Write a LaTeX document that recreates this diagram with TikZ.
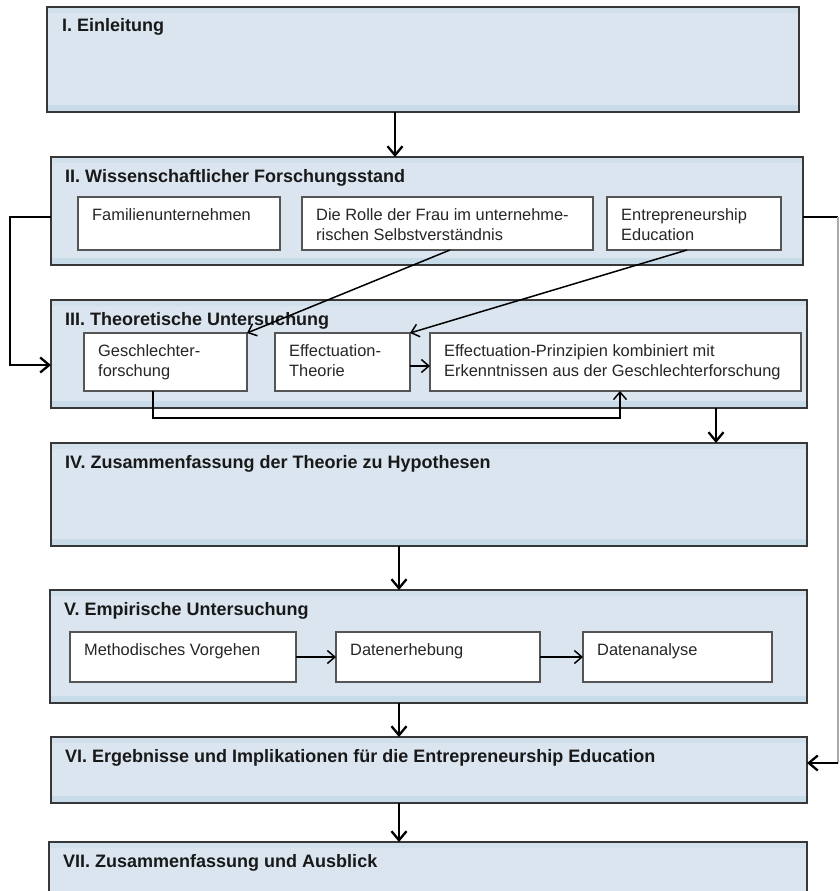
\documentclass[tikz,border=0pt]{standalone}
\usepackage{fontspec}
\setmainfont{Liberation Sans}
\usetikzlibrary{arrows.meta}
\definecolor{boxfill}{RGB}{218,229,240}
\definecolor{bandtop}{RGB}{210,224,236}
\definecolor{bandbot}{RGB}{200,219,232}
\definecolor{boxline}{RGB}{55,55,55}
\definecolor{subline}{RGB}{85,85,85}
\definecolor{routegray}{RGB}{170,170,170}
\tikzset{
  mainbox/.style={draw=boxline, line width=1.3pt, fill=boxfill, inner sep=0pt, outer sep=0pt, anchor=north west,
    path picture={
      \fill[bandtop] (path picture bounding box.north west) rectangle ([yshift=-6pt]path picture bounding box.north east);
      \fill[bandbot] ([yshift=7pt]path picture bounding box.south west) rectangle (path picture bounding box.south east);
    }},
  subbox/.style={draw=subline, line width=1.1pt, fill=white, inner sep=0pt, outer sep=0pt, anchor=north west},
  titletext/.style={anchor=base west, inner sep=0pt, font=\fontsize{18}{21}\selectfont\bfseries, text=black!90},
  subtext/.style={anchor=north west, inner sep=0pt, align=left, font=\fontsize{16.4}{20}\selectfont, text=black!85},
  arr/.style={line width=2.5pt, -{Straight Barb[length=9pt,width=15pt,line width=2.3pt]}},
  thinarr/.style={line width=1.5pt, -{Straight Barb[length=7.5pt,width=13pt,line width=1.5pt]}},
  heavyline/.style={line width=2.5pt},
  grayline/.style={line width=1.2pt, draw=routegray}
}
\begin{document}
\begin{tikzpicture}[x=1pt,y=-1pt]
\useasboundingbox (0,0) rectangle (839,891);

% main boxes
\node[mainbox, minimum width=752pt, minimum height=105pt] (I) at (47,7) {};
\node[mainbox, minimum width=752pt, minimum height=108pt] (II) at (51,157) {};
\node[mainbox, minimum width=756pt, minimum height=108pt] (III) at (51,300) {};
\node[mainbox, minimum width=756pt, minimum height=103pt] (IV) at (51,443) {};
\node[mainbox, minimum width=757pt, minimum height=113pt] (V) at (50,590) {};
\node[mainbox, minimum width=756pt, minimum height=66pt] (VI) at (51,737) {};
\node[mainbox, minimum width=758pt, minimum height=70pt] (VII) at (49,842) {};

% titles
\node[titletext] (tI) at ([shift={(15,25)}]I.north west) {I. Einleitung};
\node[titletext] (tII) at ([shift={(14,25)}]II.north west) {II. Wissenschaftlicher Forschungsstand};
\node[titletext] (tIII) at ([shift={(14,25)}]III.north west) {III. Theoretische Untersuchung};
\node[titletext] (tIV) at ([shift={(14,25)}]IV.north west) {IV. Zusammenfassung der Theorie zu Hypothesen};
\node[titletext] (tV) at ([shift={(14,25)}]V.north west) {V. Empirische Untersuchung};
\node[titletext] (tVI) at ([shift={(14,25)}]VI.north west) {VI. Ergebnisse und Implikationen für die Entrepreneurship Education};
\node[titletext] (tVII) at ([shift={(14,25)}]VII.north west) {VII. Zusammenfassung und Ausblick};

% sub boxes II
\node[subbox, minimum width=202pt, minimum height=53pt] (fam) at (78,197) {};
\node[subbox, minimum width=291pt, minimum height=53pt] (rolle) at (302,197) {};
\node[subbox, minimum width=174pt, minimum height=53pt] (edu) at (607,197) {};
\node[subtext] (famt) at ([shift={(14,11)}]fam.north west) {Familienunternehmen};
\node[subtext] (rollet) at ([shift={(14,11)}]rolle.north west) {Die Rolle der Frau im unternehme-\\rischen Selbstverständnis};
\node[subtext] (edut) at ([shift={(14,11)}]edu.north west) {Entrepreneurship\\Education};

% sub boxes III
\node[subbox, minimum width=163pt, minimum height=58pt] (ges) at (84,333) {};
\node[subbox, minimum width=135pt, minimum height=58pt] (eff) at (275,333) {};
\node[subbox, minimum width=371pt, minimum height=58pt] (prin) at (430,333) {};
\node[subtext] (gest) at ([shift={(14,11)}]ges.north west) {Geschlechter-\\forschung};
\node[subtext] (efft) at ([shift={(14,11)}]eff.north west) {Effectuation-\\Theorie};
\node[subtext] (print) at ([shift={(14,11)}]prin.north west) {Effectuation-Prinzipien kombiniert mit\\Erkenntnissen aus der Geschlechterforschung};

% sub boxes V
\node[subbox, minimum width=226pt, minimum height=50pt] (meth) at (70,632) {};
\node[subbox, minimum width=204pt, minimum height=50pt] (erh) at (336,632) {};
\node[subbox, minimum width=189pt, minimum height=50pt] (ana) at (583,632) {};
\node[subtext] (metht) at ([shift={(14,11)}]meth.north west) {Methodisches Vorgehen};
\node[subtext] (erht) at ([shift={(14,11)}]erh.north west) {Datenerhebung};
\node[subtext] (anat) at ([shift={(14,11)}]ana.north west) {Datenanalyse};

% helper coordinates
\coordinate (x395) at (395,0);
\coordinate (x399) at (399,0);
\coordinate (x716) at (716,0);
\coordinate (l1) at (10,217);
\coordinate (l2) at (10,365);
\coordinate (r1) at (838,217);
\coordinate (r2) at (838,763);
\coordinate (d1) at (450,0);
\coordinate (d2) at (687,0);
\coordinate (g1) at (153,418);
\coordinate (g2) at (620,418);
\coordinate (ey) at (0,366);

% vertical flow arrows
\draw[arr] (I.south -| x395) -- (II.north -| x395);
\draw[arr] (III.south -| x716) -- (IV.north -| x716);
\draw[arr] (IV.south -| x399) -- (V.north -| x399);
\draw[arr] (V.south -| x399) -- (VI.north -| x399);
\draw[arr] (VI.south -| x399) -- (VII.north -| x399);

% side routes
\draw[arr] (II.west |- l1) -- (l1) -- (l2) -- (III.west |- l2);
\draw[heavyline] (II.east |- r1) -- (r1);
\draw[grayline] (r1) -- (r2);
\draw[arr] (r2) -- (VI.east |- r2);

% diagonals
\draw[thinarr] (rolle.south -| d1) -- (ges.north east);
\draw[thinarr] (edu.south -| d2) -- (eff.north east);

% inner arrows
\draw[thinarr] (eff.east |- ey) -- (prin.west |- ey);
\draw[thinarr] (ges.south -| g1) -- (g1) -- (g2) -- (prin.south -| g2);
\draw[thinarr] (meth.east) -- (erh.west);
\draw[thinarr] (erh.east) -- (ana.west);
\end{tikzpicture}
\end{document}
